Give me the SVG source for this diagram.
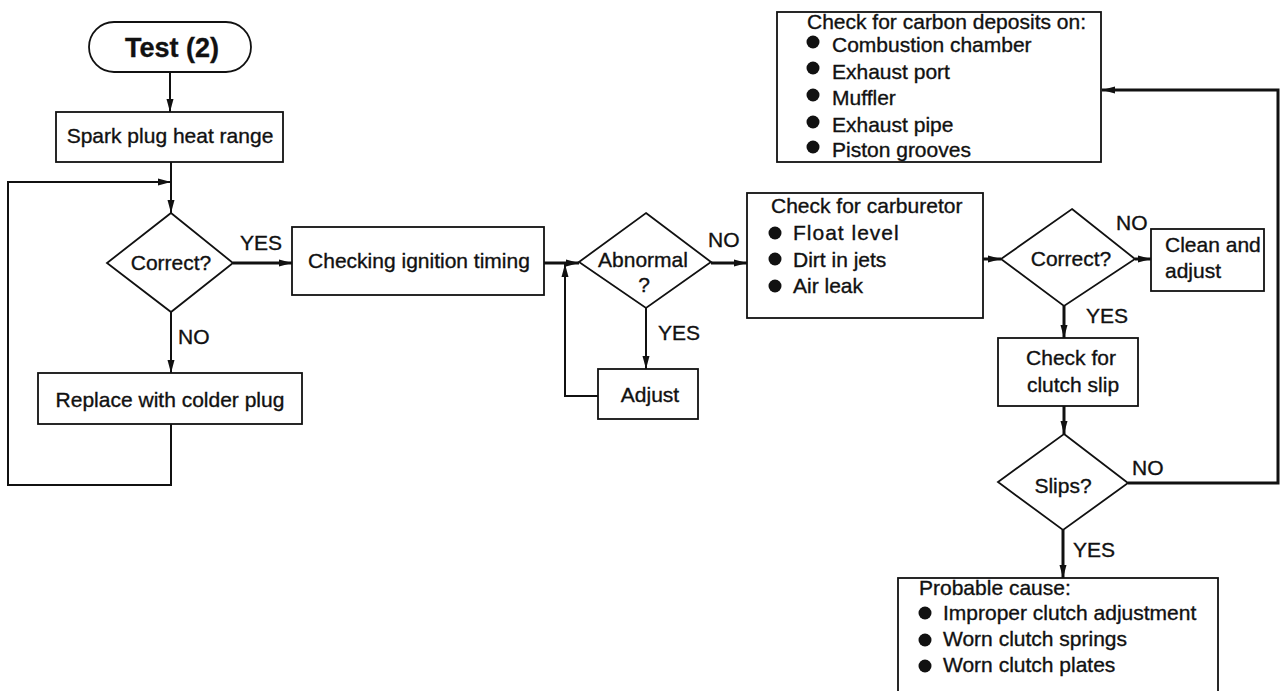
<svg xmlns="http://www.w3.org/2000/svg" width="1282" height="691" viewBox="0 0 1282 691">
<style>
text{font-family:"Liberation Sans",Arial,sans-serif;font-size:21px;fill:#111;stroke:#111;stroke-width:0.35}
.c{text-anchor:middle}
.b{fill:#fff;stroke:#111;stroke-width:1.8}
.l{fill:none;stroke:#111;stroke-width:2}
.t{stroke-width:3}
.d{fill:#111}
</style>
<defs>
<marker id="ah" markerWidth="13" markerHeight="8" refX="13" refY="4" orient="auto" markerUnits="userSpaceOnUse">
<path d="M0,0.5 L13,4 L0,7.5 z" fill="#111"/>
</marker>
</defs>
<rect width="1282" height="691" fill="#fff"/>
<g id="connectors">
<path class="l" d="M170,72 V112" marker-end="url(#ah)"/>
<path class="l" d="M171,162 V213" marker-end="url(#ah)"/>
<path class="l" d="M171,424 V485 H8 V182 H171" marker-end="url(#ah)"/>
<path class="l t" d="M233,263 H292" marker-end="url(#ah)"/>
<path class="l" d="M171,312 V373" marker-end="url(#ah)"/>
<path class="l t" d="M544,263 H579" marker-end="url(#ah)"/>
<path class="l" d="M598,396 H565 V264" marker-end="url(#ah)"/>
<path class="l" d="M646,308 V369" marker-end="url(#ah)"/>
<path class="l t" d="M711,263 H747" marker-end="url(#ah)"/>
<path class="l t" d="M983,259 H1001" marker-end="url(#ah)"/>
<path class="l t" d="M1135,259 H1151" marker-end="url(#ah)"/>
<path class="l t" d="M1064,306 V338" marker-end="url(#ah)"/>
<path class="l t" d="M1064,406 V434" marker-end="url(#ah)"/>
<path class="l t" d="M1063,530 V578" marker-end="url(#ah)"/>
<path class="l t" d="M1128,483 H1278 V90 H1102" marker-end="url(#ah)"/>
<text x="240" y="250">YES</text>
<text x="178" y="344">NO</text>
<text x="658" y="340">YES</text>
<text x="708" y="247">NO</text>
<text x="1116" y="230">NO</text>
<text x="1086" y="323">YES</text>
<text x="1132" y="475">NO</text>
<text x="1073" y="557">YES</text>
</g>
<g id="start">
<rect class="b" x="89" y="22" width="162" height="50" rx="25"/>
<text class="c" x="172" y="57" style="font-size:27px;font-weight:bold">Test (2)</text>
</g>
<g id="spark">
<rect class="b" x="56" y="112" width="227" height="50"/>
<text class="c" x="170" y="143">Spark plug heat range</text>
</g>
<g id="correct1">
<path class="b" d="M171,213 L233,263 L171,312 L107,263 Z"/>
<text class="c" x="171" y="270">Correct?</text>
</g>
<g id="replace">
<rect class="b" x="38" y="373" width="264" height="51"/>
<text class="c" x="170" y="407">Replace with colder plug</text>
</g>
<g id="timing">
<rect class="b" x="292" y="227" width="252" height="68"/>
<text class="c" x="419" y="268">Checking ignition timing</text>
</g>
<g id="abnormal">
<path class="b" d="M646,213 L711,262 L646,308 L579,262 Z"/>
<text class="c" x="643" y="267">Abnormal</text>
<text class="c" x="644" y="292">?</text>
</g>
<g id="adjust">
<rect class="b" x="598" y="369" width="100" height="50"/>
<text class="c" x="650" y="402">Adjust</text>
</g>
<g id="carburetor">
<rect class="b" x="747" y="193" width="236" height="125"/>
<text x="771" y="213">Check for carburetor</text>
<circle class="d" cx="775" cy="233" r="6.5"/>
<text x="793" y="240" style="letter-spacing:1px">Float level</text>
<circle class="d" cx="775" cy="259" r="6.5"/>
<text x="793" y="267">Dirt in jets</text>
<circle class="d" cx="775" cy="286" r="6.5"/>
<text x="793" y="293">Air leak</text>
</g>
<g id="correct2">
<path class="b" d="M1072,209 L1135,259 L1064,306 L1001,259 Z"/>
<text class="c" x="1071" y="266">Correct?</text>
</g>
<g id="clean">
<rect class="b" x="1151" y="229" width="113" height="62"/>
<text x="1165" y="252">Clean and</text>
<text x="1165" y="278">adjust</text>
</g>
<g id="clutch">
<rect class="b" x="998" y="338" width="140" height="68"/>
<text class="c" x="1071" y="365">Check for</text>
<text class="c" x="1073" y="392">clutch slip</text>
</g>
<g id="slips">
<path class="b" d="M1064,434 L1128,483 L1063,530 L998,482 Z"/>
<text class="c" x="1063" y="493">Slips?</text>
</g>
<g id="carbon">
<rect class="b" x="777" y="12" width="324" height="150"/>
<text x="807" y="29">Check for carbon deposits on:</text>
<circle class="d" cx="813" cy="42" r="6.5"/>
<text x="832" y="52">Combustion chamber</text>
<circle class="d" cx="813" cy="68" r="6.5"/>
<text x="832" y="79">Exhaust port</text>
<circle class="d" cx="813" cy="95" r="6.5"/>
<text x="832" y="105">Muffler</text>
<circle class="d" cx="813" cy="122" r="6.5"/>
<text x="832" y="132">Exhaust pipe</text>
<circle class="d" cx="813" cy="147" r="6.5"/>
<text x="832" y="157">Piston grooves</text>
</g>
<g id="probable">
<rect class="b" x="898" y="578" width="320" height="130"/>
<text x="919" y="595">Probable cause:</text>
<circle class="d" cx="925" cy="613" r="6.5"/>
<text x="943" y="620">Improper clutch adjustment</text>
<circle class="d" cx="925" cy="640" r="6.5"/>
<text x="943" y="646">Worn clutch springs</text>
<circle class="d" cx="925" cy="666" r="6.5"/>
<text x="943" y="672">Worn clutch plates</text>
</g>
</svg>
